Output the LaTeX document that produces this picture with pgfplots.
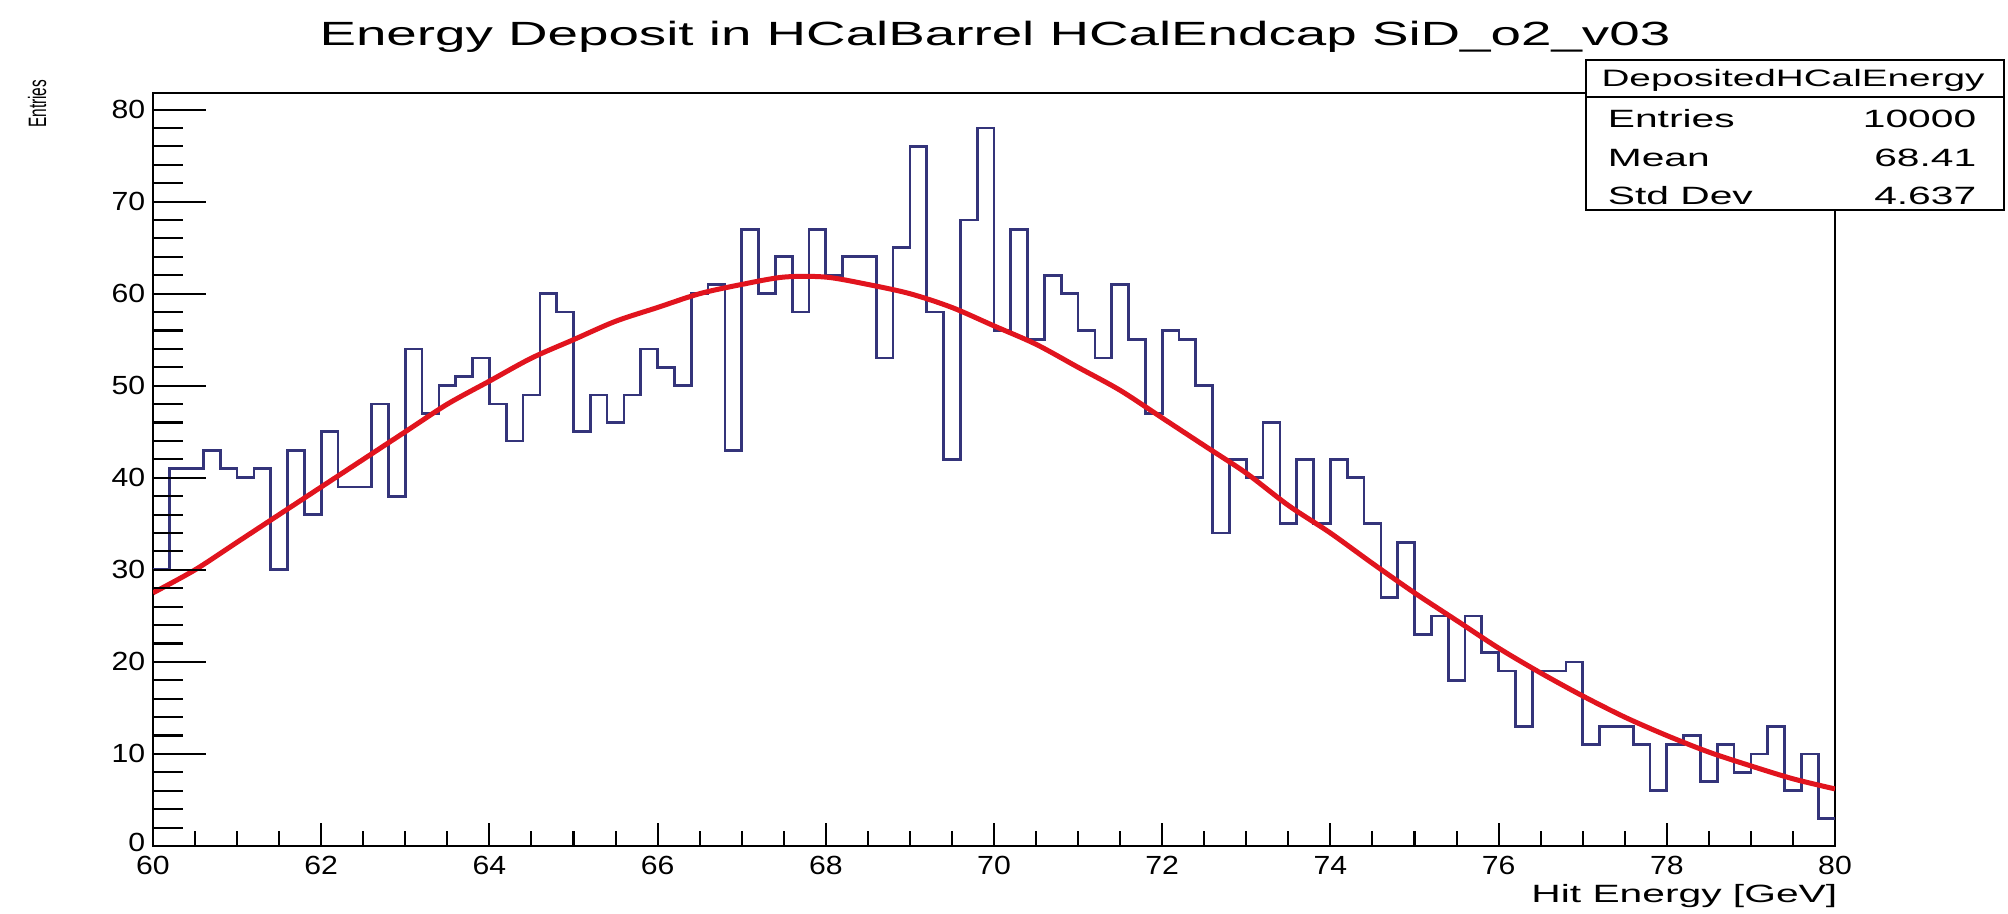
\documentclass[border=0pt]{standalone}
\usepackage{fontspec}
\setmainfont{Liberation Sans}
\usepackage{graphicx}
\usepackage{pgfplots}
\pgfplotsset{compat=1.18}
\usepackage{pgfplotstable}

\definecolor{histblue}{RGB}{52,52,122}
\definecolor{fitred}{RGB}{225,20,30}
% the picture is stretched sideways, so is every text
\newcommand{\sx}[1]{\scalebox{1.63}[1]{#1}}
\newcommand{\tx}[1]{\scalebox{1.15}[1]{#1}}

% bin lower edge, entries (last row closes the final bin)
\pgfplotstableread{
x y
60.0 30
60.2 41
60.4 41
60.6 43
60.8 41
61.0 40
61.2 41
61.4 30
61.6 43
61.8 36
62.0 45
62.2 39
62.4 39
62.6 48
62.8 38
63.0 54
63.2 47
63.4 50
63.6 51
63.8 53
64.0 48
64.2 44
64.4 49
64.6 60
64.8 58
65.0 45
65.2 49
65.4 46
65.6 49
65.8 54
66.0 52
66.2 50
66.4 60
66.6 61
66.8 43
67.0 67
67.2 60
67.4 64
67.6 58
67.8 67
68.0 62
68.2 64
68.4 64
68.6 53
68.8 65
69.0 76
69.2 58
69.4 42
69.6 68
69.8 78
70.0 56
70.2 67
70.4 55
70.6 62
70.8 60
71.0 56
71.2 53
71.4 61
71.6 55
71.8 47
72.0 56
72.2 55
72.4 50
72.6 34
72.8 42
73.0 40
73.2 46
73.4 35
73.6 42
73.8 35
74.0 42
74.2 40
74.4 35
74.6 27
74.8 33
75.0 23
75.2 25
75.4 18
75.6 25
75.8 21
76.0 19
76.2 13
76.4 19
76.6 19
76.8 20
77.0 11
77.2 13
77.4 13
77.6 11
77.8 6
78.0 11
78.2 12
78.4 7
78.6 11
78.8 8
79.0 10
79.2 13
79.4 6
79.6 10
79.8 3
80.0 3
}\histdata

% gaussian fit
\pgfplotstableread{
x y
60.0 27.5
60.5 30.0
61.0 33.0
61.5 36.0
62.0 39.0
62.5 42.0
63.0 45.0
63.5 48.0
64.0 50.5
64.5 53.0
65.0 55.0
65.5 57.0
66.0 58.5
66.5 60.0
67.0 61.0
67.5 61.8
68.0 61.8
68.5 61.0
69.0 60.0
69.5 58.5
70.0 56.5
70.5 54.5
71.0 52.0
71.5 49.5
72.0 46.5
72.5 43.5
73.0 40.5
73.5 37.0
74.0 34.0
74.5 30.7
75.0 27.5
75.5 24.5
76.0 21.5
76.5 18.8
77.0 16.3
77.5 14.0
78.0 12.0
78.5 10.2
79.0 8.7
79.5 7.3
80.0 6.2
}\fitdata

\pgfplotsset{
  hframe/.style={
    at={(36.72pt,16.32pt)}, anchor=south west,
    scale only axis, width=403.68pt, height=180.72pt,
    xmin=60, xmax=80, ymin=0, ymax=81.8,
    /pgf/number format/assume math mode=true,
    tick align=inside,
    every tick/.style={black, line width=0.5pt},
  },
}

\begin{document}
\begin{tikzpicture}
% whole picture = 2008 x 914 px at 0.24pt per px
\useasboundingbox (0,0) rectangle (481.92pt,219.36pt);
% frame, x ticks and the data
\begin{axis}[hframe,
  axis line style={line width=0.6pt},
  xtick={60,62,...,80}, minor x tick num=3,
  xtick pos=left, ytick=\empty,
  major tick length=5.5pt, minor tick length=3.6pt,
  xticklabel={\tx{\pgfmathprintnumber{\tick}}},
  xticklabel style={font=\fontsize{6.3}{7}\selectfont, anchor=north, inner sep=0pt, yshift=-2.2pt},
]
\addplot[const plot mark left, histblue, line width=0.65pt, mark=none] table[x=x, y=y] {\histdata};
\addplot[fitred, line width=1.2pt, smooth, mark=none] table[x=x, y=y] {\fitdata};
\end{axis}
% y ticks are longer than x ticks; the 0 label sits a little higher
\begin{axis}[hframe,
  axis line style={draw=none},
  xtick=\empty, ytick={0,10,...,80}, minor y tick num=4,
  ytick pos=left,
  major tick length=12.7pt, minor tick length=7.2pt,
  yticklabel={\ifdim\tick pt=0pt\raisebox{1.6pt}{\tx{0}}\else\tx{\pgfmathprintnumber{\tick}}\fi},
  yticklabel style={font=\fontsize{6.3}{7}\selectfont, anchor=east, inner sep=0pt, xshift=-1.7pt},
]
\end{axis}

\begin{scope}[x=0.24pt, y=0.24pt]
% title
\node[anchor=base, inner sep=0pt, font=\fontsize{8.06}{9}\selectfont] at (995,868)
  {\sx{Energy Deposit in HCalBarrel HCalEndcap SiD\_o2\_v03}};
% axis titles
\node[anchor=base east, inner sep=0pt, font=\fontsize{6.0}{7}\selectfont] at (1838,11)
  {\sx{Hit Energy [GeV]}};
\node[rotate=90, anchor=base east, inner sep=0pt, font=\fontsize{3.7}{4}\selectfont] at (46,835)
  {\scalebox{1}[1.63]{Entries}};
% stats box
\draw[line width=0.5pt, fill=white] (1586,704) rectangle (2004,854);
\draw[line width=0.5pt] (1586,817) -- (2004,817);
\node[anchor=base, inner sep=0pt, font=\fontsize{5.7}{6}\selectfont] at (1793,827)
  {\sx{DepositedHCalEnergy}};
\begin{scope}[every node/.style={inner sep=0pt, font=\fontsize{6.0}{7}\selectfont}]
\node[anchor=base west] at (1607,786) {\sx{Entries}};
\node[anchor=base west] at (1607,747) {\sx{Mean}};
\node[anchor=base west] at (1607,709) {\sx{Std Dev}};
\node[anchor=base east] at (1977,786) {\sx{10000}};
\node[anchor=base east] at (1977,747) {\sx{68.41}};
\node[anchor=base east] at (1977,709) {\sx{4.637}};
\end{scope}
\end{scope}
\end{tikzpicture}
\end{document}
